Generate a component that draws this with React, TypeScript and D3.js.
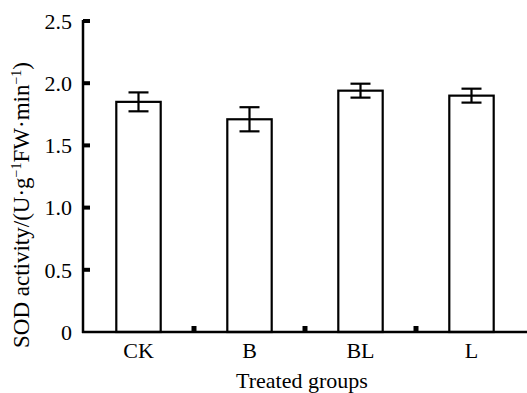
import React from 'react';
import * as d3 from 'd3';

const categories = ['CK', 'B', 'BL', 'L'];
const means = [1.85, 1.71, 1.94, 1.90];
const errors = [0.076, 0.097, 0.056, 0.056];
const yTicks = [0, 0.5, 1.0, 1.5, 2.0, 2.5];

const W = 527;
const H = 393;
const font = 'Times New Roman, Times, Liberation Serif, Nimbus Roman, DejaVu Serif, serif';
const fs = 22;

const App = () => {
    const x = d3.scaleBand<string>()
        .domain(categories)
        .range([83, 527])
        .paddingInner(0.6)
        .paddingOuter(0.3);
    const y = d3.scaleLinear().domain([0, 2.5]).range([332, 21]);
    const fmt = (d: number) => (d === 0 ? '0' : d3.format('.1f')(d));
    const step = x.step();
    const x0 = 83;

    return (
        <svg width={W} height={H} style={{ position: 'absolute', left: 0, top: 0, background: '#fff', fontFamily: font }}>
            {/* bars */}
            {categories.map((c, i) => (
                <rect key={c} x={x(c)} y={y(means[i])} width={x.bandwidth()} height={y(0) - y(means[i])}
                    fill="#fff" stroke="#000" strokeWidth={2.2} />
            ))}
            {/* error bars */}
            {categories.map((c, i) => {
                const cx = (x(c) as number) + x.bandwidth() / 2;
                return (
                    <g key={c} stroke="#000" strokeWidth={2.2}>
                        <line x1={cx} x2={cx} y1={y(means[i] + errors[i])} y2={y(means[i] - errors[i])} />
                        <line x1={cx - 10} x2={cx + 10} y1={y(means[i] + errors[i])} y2={y(means[i] + errors[i])} />
                        <line x1={cx - 10} x2={cx + 10} y1={y(means[i] - errors[i])} y2={y(means[i] - errors[i])} />
                    </g>
                );
            })}
            {/* y axis */}
            <line x1={x0} x2={x0} y1={y(2.5) - 1} y2={y(0) + 1} stroke="#000" strokeWidth={2.5} />
            {yTicks.map(t => (
                <g key={t}>
                    {t > 0 && <line x1={x0} x2={x0 + 7} y1={y(t)} y2={y(t)} stroke="#000" strokeWidth={4} />}
                    <text x={72} y={y(t)} dy="0.35em" textAnchor="end" fontSize={fs}>{fmt(t)}</text>
                </g>
            ))}
            {/* x axis */}
            <line x1={x0 - 1} x2={527} y1={y(0)} y2={y(0)} stroke="#000" strokeWidth={2.5} />
            {categories.slice(1).map((c, i) => (
                <line key={c} x1={x0 + step * (i + 1)} x2={x0 + step * (i + 1)} y1={y(0)} y2={y(0) - 6}
                    stroke="#000" strokeWidth={5} />
            ))}
            {categories.map(c => (
                <text key={c} x={(x(c) as number) + x.bandwidth() / 2} y={358} textAnchor="middle"
                    fontSize={fs}>{c}</text>
            ))}
            <text x={302} y={388} textAnchor="middle" fontSize={fs}>Treated groups</text>
            {/* y title */}
            <text transform={`translate(29,${205}) rotate(-90)`} textAnchor="middle" fontSize={23}>
                SOD activity/(U·g<tspan dy={-8} fontSize={14}>−1</tspan><tspan dy={8}>FW·min</tspan>
                <tspan dy={-8} fontSize={14}>−1</tspan><tspan dy={8}>)</tspan>
            </text>
        </svg>
    );
};

export default App;
